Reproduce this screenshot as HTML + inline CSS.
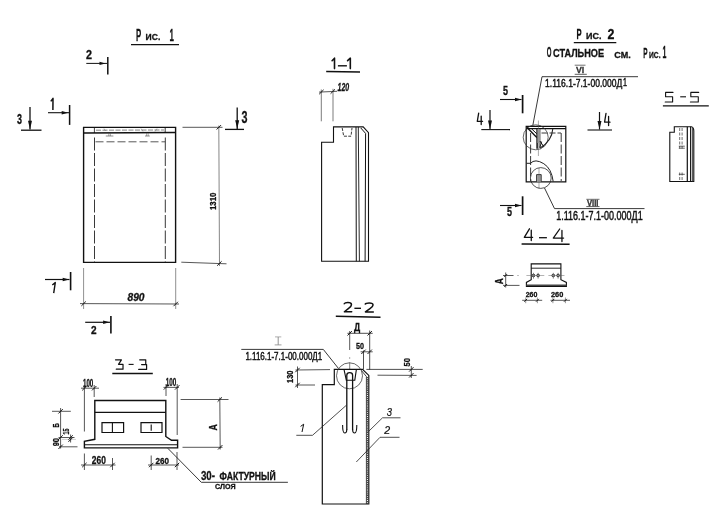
<!DOCTYPE html>
<html><head><meta charset="utf-8"><title>drawing</title>
<style>
html,body{margin:0;padding:0;background:#fff;}
svg{display:block;filter:grayscale(1);}
text{font-family:"Liberation Sans",sans-serif;}
</style></head><body>
<svg width="725" height="512" viewBox="0 0 725 512">
<rect width="725" height="512" fill="#fff"/>
<text x="136" y="40.6" font-size="17.10" textLength="5.20" lengthAdjust="spacingAndGlyphs" fill="#111" stroke="#111" stroke-width="0.3" font-weight="bold" font-style="normal">Р</text>
<text x="145.6" y="40.4" font-size="9.86" textLength="14.70" lengthAdjust="spacingAndGlyphs" fill="#111" stroke="#111" stroke-width="0.3" font-weight="bold" font-style="normal">ИС.</text>
<text x="169.6" y="40.6" font-size="17.10" textLength="4.40" lengthAdjust="spacingAndGlyphs" fill="#111" stroke="#111" stroke-width="0.3" font-weight="bold" font-style="normal">1</text>
<line x1="131" y1="44.7" x2="179" y2="44.7" stroke="#111" stroke-width="1.3" stroke-linecap="butt"/>
<text x="86" y="58.7" font-size="12.17" textLength="6.00" lengthAdjust="spacingAndGlyphs" fill="#111" stroke="#111" stroke-width="0.3" font-weight="bold" font-style="normal">2</text>
<line x1="86.3" y1="63.4" x2="107" y2="63.4" stroke="#111" stroke-width="1.0" stroke-linecap="butt"/>
<path d="M105.5 63.4 L99.5 61.8 L99.5 65.0 Z" fill="#111"/>
<line x1="107.8" y1="57" x2="107.8" y2="74.5" stroke="#111" stroke-width="1.5" stroke-linecap="butt"/>
<path d="M50.8 101.4 L53 98.4 L52.9 110" stroke="#111" stroke-width="1.5" fill="none" stroke-linejoin="round"/>
<line x1="48" y1="112.7" x2="69" y2="112.7" stroke="#111" stroke-width="1.1" stroke-linecap="butt"/>
<path d="M68.2 112.7 L61.7 110.9 L61.7 114.5 Z" fill="#111"/>
<line x1="69.6" y1="105" x2="69.6" y2="124.9" stroke="#111" stroke-width="1.5" stroke-linecap="butt"/>
<text x="17" y="123.5" font-size="13.77" textLength="5.00" lengthAdjust="spacingAndGlyphs" fill="#111" stroke="#111" stroke-width="0.3" font-weight="bold" font-style="normal">3</text>
<line x1="30" y1="107" x2="30" y2="129.5" stroke="#111" stroke-width="1.3" stroke-linecap="butt"/>
<path d="M30 129.3 L28.0 120.80000000000001 L32.0 120.80000000000001 Z" fill="#111"/>
<line x1="21" y1="130.2" x2="41.5" y2="130.2" stroke="#111" stroke-width="1.3" stroke-linecap="butt"/>
<text x="241.5" y="122.5" font-size="15.94" textLength="6.00" lengthAdjust="spacingAndGlyphs" fill="#111" stroke="#111" stroke-width="0.3" font-weight="bold" font-style="normal">3</text>
<line x1="237.2" y1="107.5" x2="237.2" y2="129" stroke="#111" stroke-width="1.3" stroke-linecap="butt"/>
<path d="M237.2 128.8 L235.2 120.30000000000001 L239.2 120.30000000000001 Z" fill="#111"/>
<line x1="225" y1="129.4" x2="244" y2="129.4" stroke="#111" stroke-width="1.3" stroke-linecap="butt"/>
<path d="M83.6 127.4 H175.6 V262.4 H83.6 Z" stroke="#111" stroke-width="1.4" fill="none" stroke-linejoin="miter"/>
<line x1="83.6" y1="133" x2="175.6" y2="132.5" stroke="#111" stroke-width="1.3" stroke-linecap="butt"/>
<line x1="94.4" y1="127.4" x2="94.4" y2="133" stroke="#111" stroke-width="0.8" stroke-linecap="butt"/>
<line x1="165.2" y1="127.4" x2="165.2" y2="133" stroke="#111" stroke-width="0.8" stroke-linecap="butt"/>
<line x1="96" y1="130.2" x2="164" y2="130" stroke="#777" stroke-width="0.9" stroke-linecap="butt" stroke-dasharray="5 1.5"/>
<line x1="108.8" y1="133" x2="108.8" y2="136" stroke="#555" stroke-width="0.5" stroke-linecap="butt"/>
<line x1="110.39999999999999" y1="133" x2="110.39999999999999" y2="136" stroke="#555" stroke-width="0.5" stroke-linecap="butt"/>
<line x1="105.8" y1="136" x2="113.39999999999999" y2="136" stroke="#444" stroke-width="0.6" stroke-linecap="butt"/>
<line x1="146.6" y1="133" x2="146.6" y2="136" stroke="#555" stroke-width="0.5" stroke-linecap="butt"/>
<line x1="148.20000000000002" y1="133" x2="148.20000000000002" y2="136" stroke="#555" stroke-width="0.5" stroke-linecap="butt"/>
<line x1="145.0" y1="136" x2="149.8" y2="136" stroke="#444" stroke-width="0.6" stroke-linecap="butt"/>
<line x1="141" y1="128.5" x2="143" y2="131.5" stroke="#666" stroke-width="0.5" stroke-linecap="butt"/>
<line x1="155" y1="131.5" x2="157" y2="128.5" stroke="#666" stroke-width="0.5" stroke-linecap="butt"/>
<line x1="104" y1="128.5" x2="105.5" y2="131" stroke="#666" stroke-width="0.5" stroke-linecap="butt"/>
<line x1="95.5" y1="141.8" x2="165.2" y2="141.8" stroke="#222" stroke-width="0.75" stroke-linecap="butt" stroke-dasharray="8 3"/>
<line x1="94.5" y1="137.5" x2="94.5" y2="262" stroke="#222" stroke-width="0.9" stroke-linecap="butt" stroke-dasharray="13 2.5"/>
<line x1="165.3" y1="137.5" x2="165.3" y2="262" stroke="#222" stroke-width="0.9" stroke-linecap="butt" stroke-dasharray="13 2.5"/>
<line x1="182.5" y1="127.3" x2="222.5" y2="127.3" stroke="#2c2c2c" stroke-width="0.8" stroke-linecap="butt"/>
<line x1="181.3" y1="262.2" x2="226.5" y2="263.8" stroke="#2c2c2c" stroke-width="0.8" stroke-linecap="butt"/>
<line x1="218.8" y1="125.5" x2="219.5" y2="266" stroke="#444" stroke-width="0.65" stroke-linecap="butt"/>
<line x1="216.60000000000002" y1="129.5" x2="221.0" y2="125.1" stroke="#1a1a1a" stroke-width="1.0" stroke-linecap="butt"/>
<line x1="217.20000000000002" y1="265.7" x2="221.6" y2="261.3" stroke="#1a1a1a" stroke-width="1.0" stroke-linecap="butt"/>
<text transform="translate(216.3,210) rotate(-90)" x="0" y="0" font-size="9.86" textLength="17.50" lengthAdjust="spacingAndGlyphs" fill="#111" stroke="#111" stroke-width="0.3" font-weight="bold" font-style="normal">1310</text>
<line x1="83.6" y1="268" x2="83.6" y2="309" stroke="#444" stroke-width="0.6" stroke-linecap="butt"/>
<line x1="175.7" y1="268" x2="175.7" y2="309" stroke="#444" stroke-width="0.6" stroke-linecap="butt"/>
<line x1="80" y1="303.6" x2="179" y2="304" stroke="#2c2c2c" stroke-width="0.8" stroke-linecap="butt"/>
<line x1="81.39999999999999" y1="305.9" x2="85.8" y2="301.5" stroke="#1a1a1a" stroke-width="1.0" stroke-linecap="butt"/>
<line x1="173.5" y1="306.2" x2="177.89999999999998" y2="301.8" stroke="#1a1a1a" stroke-width="1.0" stroke-linecap="butt"/>
<text x="127.5" y="301.3" font-size="10.58" textLength="17.00" lengthAdjust="spacingAndGlyphs" fill="#111" stroke="#111" stroke-width="0.3" font-weight="bold" font-style="italic">890</text>
<line x1="45" y1="279.5" x2="69.5" y2="279.5" stroke="#111" stroke-width="1.2" stroke-linecap="butt"/>
<path d="M69.2 279.5 L62.7 277.7 L62.7 281.3 Z" fill="#111"/>
<line x1="70.6" y1="272" x2="70.6" y2="290.3" stroke="#111" stroke-width="1.6" stroke-linecap="butt"/>
<path d="M52.3 285 L55.3 282.6 L53.7 293.2" stroke="#111" stroke-width="1.4" fill="none" stroke-linejoin="round"/>
<line x1="85.2" y1="322.3" x2="110" y2="322.3" stroke="#111" stroke-width="1.2" stroke-linecap="butt"/>
<path d="M109.6 322.3 L103.1 320.5 L103.1 324.1 Z" fill="#111"/>
<line x1="110.9" y1="316" x2="110.9" y2="333.6" stroke="#111" stroke-width="1.6" stroke-linecap="butt"/>
<text x="91" y="334.4" font-size="11.59" textLength="5.60" lengthAdjust="spacingAndGlyphs" fill="#111" stroke="#111" stroke-width="0.3" font-weight="bold" font-style="normal">2</text>
<path d="M 332.10 60.70 L 334.50 58.20 L 334.50 68.60" stroke="#111" stroke-width="1.6" fill="none" stroke-linejoin="round" stroke-linecap="round"/>
<line x1="337.9" y1="65.8" x2="346.9" y2="65.8" stroke="#111" stroke-width="1.4" stroke-linecap="butt"/>
<path d="M 347.60 60.70 L 350.32 58.20 L 350.32 68.60" stroke="#111" stroke-width="1.6" fill="none" stroke-linejoin="round" stroke-linecap="round"/>
<line x1="326.2" y1="71.5" x2="360" y2="72" stroke="#111" stroke-width="1.5" stroke-linecap="butt"/>
<text x="337.6" y="90.6" font-size="11.30" textLength="11.60" lengthAdjust="spacingAndGlyphs" fill="#111" stroke="#111" stroke-width="0.3" font-weight="bold" font-style="italic">120</text>
<line x1="319" y1="92.1" x2="337" y2="91.3" stroke="#2c2c2c" stroke-width="0.8" stroke-linecap="butt"/>
<line x1="321.3" y1="89.5" x2="321.3" y2="121.3" stroke="#444" stroke-width="0.7" stroke-linecap="butt"/>
<line x1="333" y1="88.8" x2="333" y2="121.3" stroke="#444" stroke-width="0.7" stroke-linecap="butt"/>
<line x1="319.2" y1="94.2" x2="323.59999999999997" y2="89.8" stroke="#1a1a1a" stroke-width="1.0" stroke-linecap="butt"/>
<line x1="330.6" y1="93.7" x2="335.0" y2="89.3" stroke="#1a1a1a" stroke-width="1.0" stroke-linecap="butt"/>
<path d="M321.6 261.3 V142.3 H333.5 V126.9 H363.2 L368.5 132.6 V261.3 Z" stroke="#111" stroke-width="1.1" fill="none" stroke-linejoin="miter"/>
<line x1="356" y1="127" x2="356.3" y2="261.3" stroke="#111" stroke-width="1.0" stroke-linecap="butt"/>
<line x1="358.3" y1="127" x2="359.4" y2="261.3" stroke="#111" stroke-width="0.9" stroke-linecap="butt"/>
<path d="M360.8 128 L365.6 133.4 L365.1 261.3" stroke="#111" stroke-width="1.0" fill="none" stroke-linejoin="miter"/>
<path d="M342.2 128 L343.7 136.2 H351 L352 128" stroke="#222" stroke-width="0.9" fill="none" stroke-linejoin="miter" stroke-dasharray="3 1.3"/>
<path d="M 115.50 359.80 H 121.43 L 118.50 364.31 H 123.01 V 369.20 H 116.29" stroke="#111" stroke-width="1.2" fill="none" stroke-linejoin="round" stroke-linecap="round"/>
<line x1="128.6" y1="364.4" x2="133.6" y2="364.4" stroke="#111" stroke-width="1.1" stroke-linecap="butt"/>
<path d="M 139.70 359.80 H 145.75 V 364.60 M 141.60 364.60 H 146.59 V 369.40 H 138.70" stroke="#111" stroke-width="1.2" fill="none" stroke-linejoin="round" stroke-linecap="round"/>
<line x1="112.3" y1="373.5" x2="152.8" y2="373.5" stroke="#111" stroke-width="1.3" stroke-linecap="butt"/>
<text x="83" y="387" font-size="10.14" textLength="10.30" lengthAdjust="spacingAndGlyphs" fill="#111" stroke="#111" stroke-width="0.3" font-weight="bold" font-style="normal">100</text>
<text x="165.8" y="385.5" font-size="10.43" textLength="10.50" lengthAdjust="spacingAndGlyphs" fill="#111" stroke="#111" stroke-width="0.3" font-weight="bold" font-style="normal">100</text>
<line x1="81" y1="388.2" x2="99" y2="388.2" stroke="#2c2c2c" stroke-width="0.8" stroke-linecap="butt"/>
<line x1="163.5" y1="387.4" x2="179" y2="387.4" stroke="#2c2c2c" stroke-width="0.8" stroke-linecap="butt"/>
<line x1="84.4" y1="385" x2="84.4" y2="431.5" stroke="#2c2c2c" stroke-width="0.8" stroke-linecap="butt"/>
<line x1="94.2" y1="385" x2="94.2" y2="397" stroke="#2c2c2c" stroke-width="0.8" stroke-linecap="butt"/>
<line x1="166" y1="384" x2="166" y2="396" stroke="#2c2c2c" stroke-width="0.8" stroke-linecap="butt"/>
<line x1="177.2" y1="384" x2="177.2" y2="435" stroke="#2c2c2c" stroke-width="0.8" stroke-linecap="butt"/>
<line x1="82.2" y1="390.4" x2="86.60000000000001" y2="386.0" stroke="#1a1a1a" stroke-width="1.0" stroke-linecap="butt"/>
<line x1="92.0" y1="390.4" x2="96.4" y2="386.0" stroke="#1a1a1a" stroke-width="1.0" stroke-linecap="butt"/>
<line x1="163.8" y1="389.59999999999997" x2="168.2" y2="385.2" stroke="#1a1a1a" stroke-width="1.0" stroke-linecap="butt"/>
<line x1="175.0" y1="389.59999999999997" x2="179.39999999999998" y2="385.2" stroke="#1a1a1a" stroke-width="1.0" stroke-linecap="butt"/>
<path d="M94.8 400.5 H165.8 V436.5 L171.5 440.3 H177.6 V447.9 H84.4 V441.3 L94.8 439.3 Z" stroke="#111" stroke-width="1.4" fill="none" stroke-linejoin="miter"/>
<line x1="94.8" y1="412.4" x2="165.8" y2="412.4" stroke="#111" stroke-width="1.3" stroke-linecap="butt"/>
<line x1="84.4" y1="444.8" x2="177.6" y2="444.8" stroke="#111" stroke-width="1.1" stroke-linecap="butt"/>
<path d="M102 422.7 H123.6 V432.5 H102 Z" stroke="#111" stroke-width="1.2" fill="none" stroke-linejoin="miter"/>
<line x1="112.4" y1="422.7" x2="112.4" y2="432.5" stroke="#111" stroke-width="1.1" stroke-linecap="butt"/>
<path d="M141 422.7 H162 V432.5 H141 Z" stroke="#111" stroke-width="1.2" fill="none" stroke-linejoin="miter"/>
<line x1="151.2" y1="424.5" x2="151.2" y2="430.7" stroke="#111" stroke-width="1.1" stroke-linecap="butt"/>
<line x1="60.6" y1="408" x2="60.6" y2="448.5" stroke="#2c2c2c" stroke-width="0.8" stroke-linecap="butt"/>
<line x1="52" y1="411.3" x2="70.8" y2="411.3" stroke="#2c2c2c" stroke-width="0.8" stroke-linecap="butt"/>
<line x1="58.5" y1="437.5" x2="74.5" y2="437.5" stroke="#2c2c2c" stroke-width="0.8" stroke-linecap="butt"/>
<line x1="62" y1="439.4" x2="76" y2="439.4" stroke="#888" stroke-width="0.4" stroke-linecap="butt"/>
<line x1="59" y1="446.8" x2="77.5" y2="446.8" stroke="#2c2c2c" stroke-width="0.8" stroke-linecap="butt"/>
<line x1="70.6" y1="434.5" x2="70.6" y2="442.5" stroke="#2c2c2c" stroke-width="0.8" stroke-linecap="butt"/>
<line x1="58.4" y1="413.5" x2="62.800000000000004" y2="409.1" stroke="#1a1a1a" stroke-width="1.0" stroke-linecap="butt"/>
<line x1="58.4" y1="439.7" x2="62.800000000000004" y2="435.3" stroke="#1a1a1a" stroke-width="1.0" stroke-linecap="butt"/>
<line x1="58.4" y1="449.0" x2="62.800000000000004" y2="444.6" stroke="#1a1a1a" stroke-width="1.0" stroke-linecap="butt"/>
<line x1="68.39999999999999" y1="439.7" x2="72.8" y2="435.3" stroke="#1a1a1a" stroke-width="1.0" stroke-linecap="butt"/>
<line x1="68.39999999999999" y1="441.8" x2="72.8" y2="437.40000000000003" stroke="#1a1a1a" stroke-width="1.0" stroke-linecap="butt"/>
<text transform="translate(58.7,427.6) rotate(-90)" x="0" y="0" font-size="9.28" textLength="4.30" lengthAdjust="spacingAndGlyphs" fill="#111" stroke="#111" stroke-width="0.3" font-weight="bold" font-style="normal">Б</text>
<text transform="translate(69,434.5) rotate(-90)" x="0" y="0" font-size="8.70" textLength="6.00" lengthAdjust="spacingAndGlyphs" fill="#111" stroke="#111" stroke-width="0.3" font-weight="bold" font-style="normal">15</text>
<text transform="translate(58.7,446.3) rotate(-90)" x="0" y="0" font-size="9.71" textLength="8.30" lengthAdjust="spacingAndGlyphs" fill="#111" stroke="#111" stroke-width="0.3" font-weight="bold" font-style="normal">90</text>
<line x1="180.6" y1="399.5" x2="228.5" y2="399.5" stroke="#2c2c2c" stroke-width="0.8" stroke-linecap="butt"/>
<line x1="182.5" y1="447.3" x2="222.5" y2="447.3" stroke="#2c2c2c" stroke-width="0.8" stroke-linecap="butt"/>
<line x1="219.8" y1="397.5" x2="220.2" y2="449.5" stroke="#2c2c2c" stroke-width="0.8" stroke-linecap="butt"/>
<line x1="217.60000000000002" y1="401.7" x2="222.0" y2="397.3" stroke="#1a1a1a" stroke-width="1.0" stroke-linecap="butt"/>
<line x1="218.0" y1="449.5" x2="222.39999999999998" y2="445.1" stroke="#1a1a1a" stroke-width="1.0" stroke-linecap="butt"/>
<text transform="translate(217.2,430.6) rotate(-90)" x="0" y="0" font-size="10.00" textLength="6.30" lengthAdjust="spacingAndGlyphs" fill="#111" stroke="#111" stroke-width="0.3" font-weight="bold" font-style="normal">А</text>
<text x="91.8" y="463.7" font-size="10.43" textLength="14.00" lengthAdjust="spacingAndGlyphs" fill="#111" stroke="#111" stroke-width="0.3" font-weight="bold" font-style="normal">260</text>
<text x="155.5" y="463.7" font-size="9.71" textLength="13.50" lengthAdjust="spacingAndGlyphs" fill="#111" stroke="#111" stroke-width="0.3" font-weight="bold" font-style="normal">260</text>
<line x1="81" y1="465" x2="115.5" y2="465" stroke="#2c2c2c" stroke-width="0.8" stroke-linecap="butt"/>
<line x1="148" y1="465" x2="179" y2="465" stroke="#2c2c2c" stroke-width="0.8" stroke-linecap="butt"/>
<line x1="84.4" y1="453.5" x2="84.4" y2="470" stroke="#2c2c2c" stroke-width="0.8" stroke-linecap="butt"/>
<line x1="112.5" y1="458" x2="112.5" y2="470" stroke="#2c2c2c" stroke-width="0.8" stroke-linecap="butt"/>
<line x1="151.2" y1="455.5" x2="151.2" y2="470" stroke="#2c2c2c" stroke-width="0.8" stroke-linecap="butt"/>
<line x1="177" y1="452" x2="177" y2="470" stroke="#2c2c2c" stroke-width="0.8" stroke-linecap="butt"/>
<line x1="82.2" y1="467.2" x2="86.60000000000001" y2="462.8" stroke="#1a1a1a" stroke-width="1.0" stroke-linecap="butt"/>
<line x1="110.3" y1="467.2" x2="114.7" y2="462.8" stroke="#1a1a1a" stroke-width="1.0" stroke-linecap="butt"/>
<line x1="149.0" y1="467.2" x2="153.39999999999998" y2="462.8" stroke="#1a1a1a" stroke-width="1.0" stroke-linecap="butt"/>
<line x1="174.8" y1="467.2" x2="179.2" y2="462.8" stroke="#1a1a1a" stroke-width="1.0" stroke-linecap="butt"/>
<path d="M167.8 448.3 L201.3 482.3 H287.9" stroke="#222" stroke-width="0.9" fill="none" stroke-linejoin="miter"/>
<text x="200.9" y="479.6" font-size="13.33" textLength="14.10" lengthAdjust="spacingAndGlyphs" fill="#111" stroke="#111" stroke-width="0.3" font-weight="bold" font-style="normal">30-</text>
<text x="219.6" y="480" font-size="10.29" textLength="56.10" lengthAdjust="spacingAndGlyphs" fill="#111" stroke="#111" stroke-width="0.3" font-weight="bold" font-style="normal">ФАКТУРНЫЙ</text>
<text x="215" y="489.2" font-size="7.97" textLength="20.50" lengthAdjust="spacingAndGlyphs" fill="#111" stroke="#111" stroke-width="0.3" font-weight="bold" font-style="normal">СЛОЯ</text>
<path d="M 344.23 303.75 Q 344.77 302.60 347.85 302.60 Q 351.47 302.60 351.47 304.71 Q 351.47 306.25 348.62 308.36 L 344.38 311.72 H 351.70" stroke="#111" stroke-width="1.5" fill="none" stroke-linejoin="round" stroke-linecap="round"/>
<line x1="354.4" y1="308.3" x2="361" y2="308.3" stroke="#111" stroke-width="1.4" stroke-linecap="butt"/>
<path d="M 365.25 304.04 Q 365.83 302.90 369.15 302.90 Q 373.05 302.90 373.05 304.99 Q 373.05 306.51 369.98 308.60 L 365.42 311.92 H 373.30" stroke="#111" stroke-width="1.5" fill="none" stroke-linejoin="round" stroke-linecap="round"/>
<line x1="335.8" y1="316.3" x2="380.5" y2="317.3" stroke="#111" stroke-width="1.4" stroke-linecap="butt"/>
<text x="354" y="331.3" font-size="10.58" textLength="6.20" lengthAdjust="spacingAndGlyphs" fill="#111" stroke="#111" stroke-width="0.3" font-weight="bold" font-style="normal">Д</text>
<line x1="347.4" y1="333.3" x2="372.7" y2="333.3" stroke="#222" stroke-width="0.8" stroke-linecap="butt"/>
<line x1="349.7" y1="331" x2="349.7" y2="350" stroke="#2c2c2c" stroke-width="0.8" stroke-linecap="butt"/>
<line x1="349.7" y1="357.5" x2="349.7" y2="358.5" stroke="#2c2c2c" stroke-width="0.8" stroke-linecap="butt"/>
<line x1="349.7" y1="362.5" x2="349.7" y2="369" stroke="#2c2c2c" stroke-width="0.6" stroke-linecap="butt"/>
<line x1="369.7" y1="330.5" x2="369.7" y2="369.7" stroke="#222" stroke-width="0.8" stroke-linecap="butt"/>
<line x1="347.5" y1="335.5" x2="351.9" y2="331.1" stroke="#1a1a1a" stroke-width="1.0" stroke-linecap="butt"/>
<line x1="367.5" y1="335.5" x2="371.9" y2="331.1" stroke="#1a1a1a" stroke-width="1.0" stroke-linecap="butt"/>
<text x="356" y="349.2" font-size="9.71" textLength="8.00" lengthAdjust="spacingAndGlyphs" fill="#111" stroke="#111" stroke-width="0.3" font-weight="bold" font-style="normal">50</text>
<line x1="360.6" y1="351.8" x2="372.7" y2="351.8" stroke="#2c2c2c" stroke-width="0.8" stroke-linecap="butt"/>
<line x1="363.5" y1="350.5" x2="363.5" y2="369.5" stroke="#222" stroke-width="0.8" stroke-linecap="butt"/>
<line x1="361.3" y1="354.0" x2="365.7" y2="349.6" stroke="#1a1a1a" stroke-width="1.0" stroke-linecap="butt"/>
<line x1="367.5" y1="354.0" x2="371.9" y2="349.6" stroke="#1a1a1a" stroke-width="1.0" stroke-linecap="butt"/>
<line x1="278.2" y1="337" x2="278.2" y2="344.8" stroke="#777" stroke-width="0.8" stroke-linecap="butt"/>
<line x1="275" y1="336.9" x2="281.3" y2="336.9" stroke="#777" stroke-width="0.6" stroke-linecap="butt"/>
<line x1="274.7" y1="344.9" x2="281.5" y2="344.9" stroke="#777" stroke-width="0.7" stroke-linecap="butt"/>
<path d="M241.3 349.4 H323.3 L338.5 368.5" stroke="#222" stroke-width="0.9" fill="none" stroke-linejoin="miter"/>
<text x="245.4" y="359.6" font-size="11.01" textLength="76.80" lengthAdjust="spacingAndGlyphs" fill="#111" stroke="#111" stroke-width="0.45" font-weight="normal" font-style="normal">1.116.1-7.1-00.000Д1</text>
<text transform="translate(293,383) rotate(-90)" x="0" y="0" font-size="8.70" textLength="12.50" lengthAdjust="spacingAndGlyphs" fill="#111" stroke="#111" stroke-width="0.3" font-weight="bold" font-style="normal">130</text>
<line x1="297.5" y1="366.5" x2="297.5" y2="388" stroke="#2c2c2c" stroke-width="0.8" stroke-linecap="butt"/>
<line x1="295.5" y1="370" x2="330" y2="369.6" stroke="#2c2c2c" stroke-width="0.8" stroke-linecap="butt"/>
<line x1="295.5" y1="385" x2="315" y2="385" stroke="#2c2c2c" stroke-width="0.8" stroke-linecap="butt"/>
<line x1="295.3" y1="372.2" x2="299.7" y2="367.8" stroke="#1a1a1a" stroke-width="1.0" stroke-linecap="butt"/>
<line x1="295.3" y1="387.2" x2="299.7" y2="382.8" stroke="#1a1a1a" stroke-width="1.0" stroke-linecap="butt"/>
<path d="M322.3 504 V384.6 H334.3 V369.4 H362.5 L368.8 375.4 V504 Z" stroke="#111" stroke-width="1.2" fill="none" stroke-linejoin="miter"/>
<path d="M361.4 370.5 L366.4 376.5 V504" stroke="#111" stroke-width="0.8" fill="none" stroke-linejoin="miter"/>
<line x1="367.6" y1="377" x2="367.6" y2="504" stroke="#444" stroke-width="1.8" stroke-linecap="butt" stroke-dasharray="1.3 0.8"/>
<circle cx="349.5" cy="375.8" r="13" stroke="#333" stroke-width="0.75" fill="none"/>
<path d="M344 369.4 L346.3 380.2 H354.8 L356.4 369.4" stroke="#111" stroke-width="1.1" fill="none" stroke-linejoin="miter"/>
<path d="M346.8 430 V375.2 Q346.8 372.6 349.7 372.6 Q352.6 372.6 352.6 375.2 V430" stroke="#111" stroke-width="1.3" fill="none" stroke-linejoin="miter"/>
<path d="M346.8 429.5 Q346.8 433 344.7 433 Q342.6 433 342.6 425" stroke="#111" stroke-width="1.1" fill="none" stroke-linejoin="miter"/>
<path d="M352.6 429.5 Q352.6 433 354.7 433 Q356.8 433 356.8 425" stroke="#111" stroke-width="1.1" fill="none" stroke-linejoin="miter"/>
<line x1="366.4" y1="369.4" x2="422.7" y2="369.4" stroke="#222" stroke-width="0.8" stroke-linecap="butt"/>
<line x1="377.5" y1="375.2" x2="416.6" y2="375.4" stroke="#2c2c2c" stroke-width="0.8" stroke-linecap="butt"/>
<text transform="translate(410.2,366.5) rotate(-90)" x="0" y="0" font-size="9.86" textLength="8.30" lengthAdjust="spacingAndGlyphs" fill="#111" stroke="#111" stroke-width="0.3" font-weight="bold" font-style="normal">50</text>
<line x1="411.3" y1="366" x2="411.3" y2="378" stroke="#2c2c2c" stroke-width="0.8" stroke-linecap="butt"/>
<line x1="409.1" y1="371.59999999999997" x2="413.5" y2="367.2" stroke="#1a1a1a" stroke-width="1.0" stroke-linecap="butt"/>
<line x1="409.1" y1="377.5" x2="413.5" y2="373.1" stroke="#1a1a1a" stroke-width="1.0" stroke-linecap="butt"/>
<path d="M300.6 426.4 L303.7 424.2 L302 432" stroke="#111" stroke-width="1.0" fill="none" stroke-linejoin="round"/>
<path d="M296.3 435.3 H312.5 L346.3 405.3" stroke="#222" stroke-width="0.8" fill="none" stroke-linejoin="miter"/>
<text x="386.8" y="415.8" font-size="11.30" textLength="5.20" lengthAdjust="spacingAndGlyphs" fill="#111" stroke="#111" stroke-width="0.2" font-weight="normal" font-style="italic">3</text>
<path d="M400.5 417.8 H382.5 L368.5 431.5" stroke="#222" stroke-width="0.8" fill="none" stroke-linejoin="miter"/>
<text x="384.3" y="434" font-size="10.14" textLength="5.90" lengthAdjust="spacingAndGlyphs" fill="#111" stroke="#111" stroke-width="0.2" font-weight="normal" font-style="italic">2</text>
<path d="M399.5 437.3 H380 L356.3 462" stroke="#222" stroke-width="0.8" fill="none" stroke-linejoin="miter"/>
<text x="576.5" y="39" font-size="15.51" textLength="5.10" lengthAdjust="spacingAndGlyphs" fill="#111" stroke="#111" stroke-width="0.3" font-weight="bold" font-style="normal">Р</text>
<text x="586" y="39" font-size="9.28" textLength="15.40" lengthAdjust="spacingAndGlyphs" fill="#111" stroke="#111" stroke-width="0.3" font-weight="bold" font-style="normal">ИС.</text>
<text x="607.6" y="39" font-size="14.78" textLength="6.90" lengthAdjust="spacingAndGlyphs" fill="#111" stroke="#111" stroke-width="0.3" font-weight="bold" font-style="normal">2</text>
<line x1="573.8" y1="42.7" x2="616.3" y2="42.7" stroke="#111" stroke-width="1.3" stroke-linecap="butt"/>
<text x="546.8" y="56.7" font-size="15.07" textLength="4.70" lengthAdjust="spacingAndGlyphs" fill="#111" stroke="#111" stroke-width="0.3" font-weight="bold" font-style="normal">О</text>
<text x="553" y="56.7" font-size="10.87" textLength="51.10" lengthAdjust="spacingAndGlyphs" fill="#111" stroke="#111" stroke-width="0.3" font-weight="bold" font-style="normal">СТАЛЬНОЕ</text>
<text x="614.3" y="57.5" font-size="9.42" textLength="16.40" lengthAdjust="spacingAndGlyphs" fill="#111" stroke="#111" stroke-width="0.3" font-weight="bold" font-style="normal">СМ.</text>
<text x="643.3" y="57.6" font-size="14.93" textLength="4.30" lengthAdjust="spacingAndGlyphs" fill="#111" stroke="#111" stroke-width="0.3" font-weight="bold" font-style="normal">Р</text>
<text x="649" y="57.6" font-size="9.57" textLength="11.50" lengthAdjust="spacingAndGlyphs" fill="#111" stroke="#111" stroke-width="0.3" font-weight="bold" font-style="normal">ИС.</text>
<text x="662.5" y="57.6" font-size="16.38" textLength="3.90" lengthAdjust="spacingAndGlyphs" fill="#111" stroke="#111" stroke-width="0.3" font-weight="bold" font-style="normal">1</text>
<text x="576" y="72.8" font-size="9.42" textLength="8.30" lengthAdjust="spacingAndGlyphs" fill="#333" stroke="#333" stroke-width="0.3" font-weight="bold" font-style="normal">VI</text>
<line x1="574.7" y1="65.2" x2="585.5" y2="65.2" stroke="#333" stroke-width="0.7" stroke-linecap="butt"/>
<line x1="574.7" y1="74.3" x2="586.8" y2="74.3" stroke="#333" stroke-width="0.8" stroke-linecap="butt"/>
<path d="M638 76.7 H542 L532.8 125.5" stroke="#222" stroke-width="0.9" fill="none" stroke-linejoin="miter"/>
<text x="545.1" y="87.3" font-size="11.45" textLength="77.20" lengthAdjust="spacingAndGlyphs" fill="#111" stroke="#111" stroke-width="0.45" font-weight="normal" font-style="normal">1.116.1-7.1-00.000Д</text>
<text x="623" y="85.5" font-size="10.58" textLength="4.00" lengthAdjust="spacingAndGlyphs" fill="#111" stroke="#111" stroke-width="0.45" font-weight="normal" font-style="normal">1</text>
<text x="503" y="95" font-size="12.32" textLength="5.00" lengthAdjust="spacingAndGlyphs" fill="#111" stroke="#111" stroke-width="0.3" font-weight="bold" font-style="normal">5</text>
<line x1="500" y1="99.5" x2="521.5" y2="99.5" stroke="#111" stroke-width="1.1" stroke-linecap="butt"/>
<path d="M521.5 99.5 L515.0 97.7 L515.0 101.3 Z" fill="#111"/>
<line x1="522.6" y1="95" x2="522.6" y2="113.3" stroke="#111" stroke-width="1.7" stroke-linecap="butt"/>
<path d="M 478.68 113.20 L 477.28 121.34 H 482.60 M 481.20 116.03 V 124.50" stroke="#111" stroke-width="1.3" fill="none" stroke-linejoin="round" stroke-linecap="round"/>
<line x1="490" y1="110" x2="490" y2="129" stroke="#111" stroke-width="1.2" stroke-linecap="butt"/>
<path d="M490 129 L488.0 120.5 L492.0 120.5 Z" fill="#111"/>
<line x1="481.3" y1="129.6" x2="510" y2="129.6" stroke="#111" stroke-width="1.1" stroke-linecap="butt"/>
<path d="M 606.01 113.30 L 604.58 122.16 H 610.00 M 608.58 116.38 V 125.60" stroke="#111" stroke-width="1.3" fill="none" stroke-linejoin="round" stroke-linecap="round"/>
<line x1="599.5" y1="112" x2="599.5" y2="129.5" stroke="#111" stroke-width="1.2" stroke-linecap="butt"/>
<path d="M599.5 129.5 L597.5 121.0 L601.5 121.0 Z" fill="#111"/>
<line x1="587.5" y1="130" x2="612" y2="130" stroke="#111" stroke-width="1.1" stroke-linecap="butt"/>
<path d="M526.2 126.3 H565.8 V181.8 H526.2 Z" stroke="#111" stroke-width="1.2" fill="none" stroke-linejoin="miter"/>
<line x1="526.2" y1="128.7" x2="565.8" y2="128.7" stroke="#111" stroke-width="1.2" stroke-linecap="butt"/>
<line x1="530.6" y1="133" x2="530.6" y2="181" stroke="#222" stroke-width="0.9" stroke-linecap="butt" stroke-dasharray="9 2.5"/>
<line x1="561.2" y1="133" x2="561.2" y2="181" stroke="#222" stroke-width="0.9" stroke-linecap="butt" stroke-dasharray="9 2.5"/>
<line x1="541.5" y1="133" x2="561" y2="133" stroke="#222" stroke-width="0.9" stroke-linecap="butt" stroke-dasharray="6 2"/>
<circle cx="535.7" cy="137.3" r="12.5" stroke="#333" stroke-width="0.75" fill="none"/>
<line x1="538.4" y1="120.5" x2="538.4" y2="156" stroke="#555" stroke-width="0.5" stroke-linecap="butt"/>
<line x1="526.8" y1="127.3" x2="536.8" y2="137.5" stroke="#111" stroke-width="1.3" stroke-linecap="butt"/>
<line x1="531.3" y1="128.5" x2="536.8" y2="133.8" stroke="#111" stroke-width="1.0" stroke-linecap="butt"/>
<line x1="537.1" y1="128.5" x2="537.1" y2="148.8" stroke="#111" stroke-width="1.5" stroke-linecap="butt"/>
<line x1="539.9" y1="128.5" x2="539.9" y2="148" stroke="#111" stroke-width="0.8" stroke-linecap="butt"/>
<path d="M537.4 129 H539.7 V143 H537.4 Z" stroke="none" stroke-width="0" fill="#999" stroke-linejoin="miter"/>
<line x1="539.9" y1="141" x2="543.8" y2="146.8" stroke="#111" stroke-width="1.0" stroke-linecap="butt"/>
<line x1="539.9" y1="147.4" x2="541.6" y2="141.6" stroke="#111" stroke-width="0.9" stroke-linecap="butt"/>
<path d="M552.8 128.8 Q552 141 539.9 148.2" stroke="#222" stroke-width="1.1" fill="none" stroke-linejoin="miter"/>
<path d="M526.4 163.3 H530.5 Q535 158.3 543.8 163.7 Q551.5 168.5 553.2 181.5" stroke="#222" stroke-width="1.0" fill="none" stroke-linejoin="miter"/>
<circle cx="540.8" cy="178" r="10.4" stroke="#2a2a2a" stroke-width="0.8" fill="none"/>
<path d="M536.6 181.8 V174.6 H541.2 V181.8" stroke="#222" stroke-width="0.9" fill="#aaa" stroke-linejoin="miter"/>
<line x1="539" y1="168" x2="539" y2="189" stroke="#555" stroke-width="0.5" stroke-linecap="butt"/>
<path d="M544.5 188 L554.5 208.6 H644.5" stroke="#222" stroke-width="0.9" fill="none" stroke-linejoin="miter"/>
<text x="587" y="205.7" font-size="8.26" textLength="11.50" lengthAdjust="spacingAndGlyphs" fill="#333" stroke="#333" stroke-width="0.3" font-weight="bold" font-style="normal">VIII</text>
<line x1="586.3" y1="199.3" x2="599.5" y2="199.3" stroke="#333" stroke-width="0.7" stroke-linecap="butt"/>
<line x1="586.3" y1="206.6" x2="599.5" y2="206.6" stroke="#333" stroke-width="0.8" stroke-linecap="butt"/>
<text x="556.2" y="219.8" font-size="12.75" textLength="86.50" lengthAdjust="spacingAndGlyphs" fill="#111" stroke="#111" stroke-width="0.45" font-weight="normal" font-style="normal">1.116.1-7.1-00.000Д1</text>
<line x1="500" y1="205.5" x2="521.5" y2="205.5" stroke="#111" stroke-width="1.1" stroke-linecap="butt"/>
<path d="M521.5 205.5 L515.0 203.7 L515.0 207.3 Z" fill="#111"/>
<line x1="522.6" y1="196.3" x2="522.6" y2="215" stroke="#111" stroke-width="1.7" stroke-linecap="butt"/>
<text x="507" y="216.3" font-size="12.03" textLength="5.00" lengthAdjust="spacingAndGlyphs" fill="#111" stroke="#111" stroke-width="0.3" font-weight="bold" font-style="normal">5</text>
<path d="M 673.00 92.40 H 665.59 V 96.82 H 672.61 V 102.00 H 665.20" stroke="#111" stroke-width="1.1" fill="none" stroke-linejoin="round" stroke-linecap="round"/>
<line x1="680.2" y1="96.8" x2="686" y2="96.8" stroke="#111" stroke-width="1.1" stroke-linecap="butt"/>
<path d="M 698.70 92.40 H 690.81 V 96.82 H 698.29 V 102.00 H 690.40" stroke="#111" stroke-width="1.1" fill="none" stroke-linejoin="round" stroke-linecap="round"/>
<line x1="662.9" y1="105.9" x2="708.8" y2="105.9" stroke="#111" stroke-width="1.3" stroke-linecap="butt"/>
<path d="M669.8 181.5 V132.3 H674.3 V126.7 H691.3 Q693.8 127 693.8 131 V181.5 Z" stroke="#111" stroke-width="1.1" fill="none" stroke-linejoin="miter"/>
<line x1="687.3" y1="126.7" x2="687.3" y2="181.5" stroke="#111" stroke-width="1.2" stroke-linecap="butt"/>
<line x1="690.6" y1="126.7" x2="690.6" y2="181.5" stroke="#111" stroke-width="1.1" stroke-linecap="butt"/>
<line x1="692.4" y1="127.5" x2="692.4" y2="181.5" stroke="#333" stroke-width="0.9" stroke-linecap="butt"/>
<line x1="679.7" y1="128" x2="679.7" y2="148.5" stroke="#333" stroke-width="0.7" stroke-linecap="butt" stroke-dasharray="3 1.5"/>
<line x1="682.1" y1="128" x2="682.1" y2="148.5" stroke="#333" stroke-width="0.7" stroke-linecap="butt" stroke-dasharray="3 1.5"/>
<line x1="679.7" y1="172.5" x2="679.7" y2="181" stroke="#333" stroke-width="0.7" stroke-linecap="butt" stroke-dasharray="3 1.5"/>
<line x1="682.1" y1="172.5" x2="682.1" y2="181" stroke="#333" stroke-width="0.7" stroke-linecap="butt" stroke-dasharray="3 1.5"/>
<line x1="678.8" y1="146.2" x2="684.8" y2="146.2" stroke="#222" stroke-width="0.7" stroke-linecap="butt"/>
<line x1="678.8" y1="148.2" x2="684.8" y2="148.2" stroke="#222" stroke-width="0.7" stroke-linecap="butt"/>
<line x1="678.8" y1="174.3" x2="684.8" y2="174.3" stroke="#222" stroke-width="0.7" stroke-linecap="butt"/>
<path d="M 529.45 228.80 L 524.30 237.30 H 532.60 M 531.27 230.22 V 240.60" stroke="#111" stroke-width="1.3" fill="none" stroke-linejoin="round" stroke-linecap="round"/>
<line x1="539" y1="237.7" x2="546.9" y2="237.7" stroke="#111" stroke-width="1.3" stroke-linecap="butt"/>
<path d="M 559.69 229.00 L 553.30 238.07 H 563.60 M 561.95 230.51 V 241.60" stroke="#111" stroke-width="1.3" fill="none" stroke-linejoin="round" stroke-linecap="round"/>
<line x1="521.6" y1="244" x2="569.6" y2="244.2" stroke="#111" stroke-width="1.4" stroke-linecap="butt"/>
<path d="M531.2 263.9 H560.9 V279.7 L566.4 282.4 V286.4 H526.4 V282.4 L531.2 279.7 Z" stroke="#111" stroke-width="1.1" fill="none" stroke-linejoin="miter"/>
<line x1="531.2" y1="268.2" x2="560.9" y2="268.2" stroke="#111" stroke-width="0.9" stroke-linecap="butt"/>
<line x1="526.4" y1="285.3" x2="566.4" y2="285.3" stroke="#444" stroke-width="1.6" stroke-linecap="butt"/>
<circle cx="533.5" cy="275.5" r="1.35" stroke="#111" stroke-width="0.9" fill="none"/>
<line x1="533.5" y1="272.8" x2="533.5" y2="278.8" stroke="#444" stroke-width="0.5" stroke-linecap="butt"/>
<circle cx="538.1" cy="275.5" r="1.35" stroke="#111" stroke-width="0.9" fill="none"/>
<line x1="538.1" y1="272.8" x2="538.1" y2="278.8" stroke="#444" stroke-width="0.5" stroke-linecap="butt"/>
<circle cx="553.3" cy="275.5" r="1.35" stroke="#111" stroke-width="0.9" fill="none"/>
<line x1="553.3" y1="272.8" x2="553.3" y2="278.8" stroke="#444" stroke-width="0.5" stroke-linecap="butt"/>
<circle cx="558.1" cy="275.5" r="1.35" stroke="#111" stroke-width="0.9" fill="none"/>
<line x1="558.1" y1="272.8" x2="558.1" y2="278.8" stroke="#444" stroke-width="0.5" stroke-linecap="butt"/>
<line x1="526.4" y1="275.5" x2="544.3" y2="275.5" stroke="#555" stroke-width="0.45" stroke-linecap="butt"/>
<line x1="548.4" y1="275.5" x2="564.5" y2="275.5" stroke="#555" stroke-width="0.45" stroke-linecap="butt"/>
<line x1="505.7" y1="272.5" x2="505.7" y2="287.5" stroke="#2c2c2c" stroke-width="0.8" stroke-linecap="butt"/>
<line x1="503" y1="275.5" x2="513.5" y2="275.5" stroke="#2c2c2c" stroke-width="0.8" stroke-linecap="butt"/>
<line x1="517.5" y1="275.5" x2="518.5" y2="275.5" stroke="#2c2c2c" stroke-width="0.6" stroke-linecap="butt"/>
<line x1="503" y1="285.4" x2="519.5" y2="285.4" stroke="#2c2c2c" stroke-width="0.8" stroke-linecap="butt"/>
<line x1="504.3" y1="276.9" x2="507.09999999999997" y2="274.1" stroke="#1a1a1a" stroke-width="1.0" stroke-linecap="butt"/>
<line x1="504.3" y1="286.79999999999995" x2="507.09999999999997" y2="284.0" stroke="#1a1a1a" stroke-width="1.0" stroke-linecap="butt"/>
<text transform="translate(502.5,284.3) rotate(-90)" x="0" y="0" font-size="10.43" textLength="6.00" lengthAdjust="spacingAndGlyphs" fill="#111" stroke="#111" stroke-width="0.3" font-weight="bold" font-style="normal">А</text>
<text x="525.7" y="296.6" font-size="8.12" textLength="11.70" lengthAdjust="spacingAndGlyphs" fill="#111" stroke="#111" stroke-width="0.3" font-weight="bold" font-style="normal">260</text>
<text x="551" y="296.6" font-size="8.12" textLength="12.30" lengthAdjust="spacingAndGlyphs" fill="#111" stroke="#111" stroke-width="0.3" font-weight="bold" font-style="normal">260</text>
<line x1="522.2" y1="300.3" x2="542.2" y2="300.3" stroke="#2c2c2c" stroke-width="0.8" stroke-linecap="butt"/>
<line x1="550.5" y1="300.3" x2="570" y2="300.3" stroke="#2c2c2c" stroke-width="0.8" stroke-linecap="butt"/>
<line x1="525.7" y1="297.5" x2="525.7" y2="303.2" stroke="#2c2c2c" stroke-width="0.5" stroke-linecap="butt"/>
<line x1="524.3000000000001" y1="301.7" x2="527.1" y2="298.90000000000003" stroke="#1a1a1a" stroke-width="1.0" stroke-linecap="butt"/>
<line x1="537.4" y1="297.5" x2="537.4" y2="303.2" stroke="#2c2c2c" stroke-width="0.5" stroke-linecap="butt"/>
<line x1="536.0" y1="301.7" x2="538.8" y2="298.90000000000003" stroke="#1a1a1a" stroke-width="1.0" stroke-linecap="butt"/>
<line x1="552.9" y1="297.5" x2="552.9" y2="303.2" stroke="#2c2c2c" stroke-width="0.5" stroke-linecap="butt"/>
<line x1="551.5" y1="301.7" x2="554.3" y2="298.90000000000003" stroke="#1a1a1a" stroke-width="1.0" stroke-linecap="butt"/>
<line x1="565.4" y1="297.5" x2="565.4" y2="303.2" stroke="#2c2c2c" stroke-width="0.5" stroke-linecap="butt"/>
<line x1="564.0" y1="301.7" x2="566.8" y2="298.90000000000003" stroke="#1a1a1a" stroke-width="1.0" stroke-linecap="butt"/>
</svg>
</body></html>
